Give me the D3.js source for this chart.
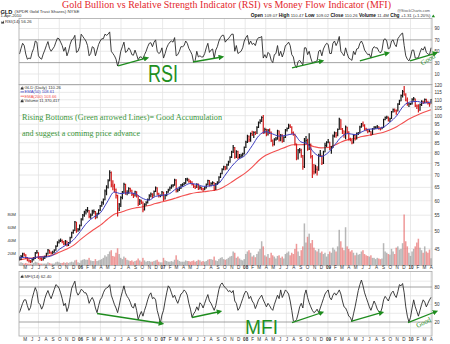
<!DOCTYPE html>
<html>
<head>
<meta charset="utf-8">
<script src="https://cdn.jsdelivr.net/npm/d3@7"></script>
<style>
  body { margin: 0; background: #fff; }
  svg { display: block; }
</style>
</head>
<body>
<svg id="chart" width="450" height="344" font-family="Liberation Sans, Arial, sans-serif"></svg>
<script>
// ---- GLD weekly data, Apr 2005 - Apr 2010 (one entry per Friday from 8 Apr 2005) ----
const firstFriday = new Date(2005, 3, 8);

const closes = [
  42.2,42.9,43.6,43.4, 42.6,42.0,41.8,41.6, 42.1,42.4,43.8,44.0, 42.6,42.4,42.2,42.5,42.9, 43.6,44.6,43.9,43.8, 44.0,44.5,45.6,46.7,47.1, 47.2,47.0,46.3,47.1, 45.9,46.5,48.0,49.5, 50.1,52.8,50.3,50.4,51.6,
  53.7,55.0,56.0,56.6, 56.6,54.6,55.0,56.2, 56.2,54.2,55.4,56.7,58.1, 59.3,60.3,63.6,65.0, 67.6,71.0,66.0,65.5, 64.2,61.9,57.2,58.6,61.2, 63.2,66.2,63.0,63.0, 64.5,63.9,62.3,61.8, 63.3,61.8,58.9,59.9,59.5, 56.8,58.7,59.3,60.4, 61.9,62.4,61.7,63.4, 64.8,62.6,61.8,61.9,63.2,
  60.6,61.9,63.2,64.0, 64.8,65.6,65.8,67.9, 63.8,64.0,64.7,65.9,66.1, 66.6,68.3,68.3,67.4, 67.1,66.2,65.4,65.0, 66.2,64.6,64.9,64.4,64.3, 64.8,66.1,67.7,65.8, 66.5,66.9,64.3,66.3,67.0, 69.1,70.6,72.4,73.5, 72.7,74.4,75.7,77.9, 80.4,82.6,78.0,80.6,77.9, 78.2,78.6,79.5,82.6,
  85.3,88.4,86.5,89.8, 89.3,90.4,89.9,93.2,96.0, 96.8,98.9,90.6,92.0, 89.4,91.6,90.5,86.1, 84.1,86.8,86.9,91.3,86.4, 88.9,85.7,87.8,91.7, 92.5,94.0,93.4,90.3, 89.4,84.4,77.6,81.3,81.3, 78.7,73.6,85.9,86.1, 81.8,84.0,78.2,71.4,71.3, 72.5,72.2,78.9,79.4, 75.2,80.4,83.6,85.2,
  85.4,82.2,82.2,88.5,90.1, 88.8,92.0,97.9,92.3, 91.3,89.6,93.4,90.5, 87.0,86.5,84.9,88.8, 86.9,89.9,90.0,93.4,95.1, 94.4,92.4,91.9,91.0, 91.0,89.2,92.4,93.4,93.4, 93.5,92.7,92.3,93.0, 97.7,98.9,99.1,97.4, 98.1,102.3,103.7,103.0,102.9, 107.2,109.2,112.8,115.5, 113.2,109.8,107.2,107.3,
  107.3,110.3,110.6,106.1,105.96, 103.3,106.9,109.0,108.35, 110.2,108.5,107.6,107.2, 110.26
];

const highs = [
  42.9,43.3,43.9,43.9, 43.5,42.8,42.2,42.0, 42.4,42.7,44.1,44.6, 44.0,42.9,42.7,42.8,43.1, 43.9,44.9,44.7,44.2, 44.4,44.8,45.9,47.0,47.5, 47.8,47.5,47.1,47.4, 47.2,46.8,48.3,49.8, 50.5,53.1,52.9,50.9,52.0,
  54.0,55.4,56.5,57.1, 57.8,56.7,55.6,56.8, 56.9,56.4,55.8,57.0,58.5, 59.8,60.8,64.2,65.8, 68.2,72.0,71.5,67.8, 66.4,64.6,62.2,59.2,61.6, 63.6,66.8,66.4,63.9, 65.0,64.9,64.1,62.7, 63.7,63.5,62.0,60.6,60.3, 59.7,59.1,59.8,60.8, 62.4,63.0,62.7,63.8, 65.3,65.0,62.9,62.3,63.6,
  63.3,62.3,63.6,64.5, 65.3,66.1,66.3,68.5, 68.2,64.6,65.3,66.3,66.6, 67.1,68.8,68.9,68.5, 67.8,67.4,66.4,65.8, 66.6,66.5,65.5,65.2,64.8, 65.2,66.5,68.0,67.9, 67.0,67.4,67.0,66.7,67.4, 69.5,71.0,72.9,74.0, 73.9,74.9,76.3,78.4, 81.0,83.8,82.9,81.2,81.0, 79.4,79.6,80.0,83.1,
  86.0,89.1,88.7,90.4, 91.4,91.0,91.0,93.8,96.5, 97.9,99.7,100.4,93.0, 92.4,92.3,92.6,90.9, 86.6,87.3,88.0,91.9,91.5, 89.6,89.4,88.4,92.3, 93.2,95.3,95.0,93.8, 90.9,89.7,84.6,81.9,82.4, 82.0,79.0,87.5,88.5, 87.0,90.0,84.6,78.9,74.8, 74.5,73.8,79.6,81.4, 79.0,81.0,85.0,85.8,
  86.9,85.5,83.3,89.3,90.9, 90.6,92.6,98.8,97.8, 92.9,91.5,94.3,93.6, 91.0,87.6,86.8,89.4, 89.1,90.4,90.6,94.1,95.7, 96.6,94.9,93.0,92.5, 92.1,91.1,92.9,93.9,93.9, 94.6,93.9,93.2,93.6, 98.2,99.5,99.9,99.5, 98.7,102.8,104.4,104.4,103.7, 107.8,110.1,113.6,116.6, 119.5,114.4,111.6,107.9,
  107.9,111.0,111.9,110.8,107.0, 107.1,107.5,109.7,109.4, 110.8,110.7,109.3,108.2, 110.47
];

const lows = [
  41.9,42.0,42.7,43.0, 42.3,41.7,41.4,41.3, 41.4,41.9,42.3,43.6, 42.3,41.9,41.8,41.9,42.3, 42.7,43.4,43.6,43.4, 43.5,43.9,44.4,45.5,46.4, 46.8,46.5,45.9,46.0, 45.6,45.7,46.4,47.9, 49.2,50.0,49.5,49.8,50.2,
  51.5,53.3,54.5,55.2, 55.9,54.0,53.8,54.8, 55.5,53.7,54.0,55.2,56.4, 57.9,58.6,60.2,62.0, 64.6,67.4,65.0,63.9, 63.0,60.8,54.6,56.4,57.8, 60.5,62.8,62.2,62.0, 62.6,63.2,61.7,61.0, 61.5,61.2,58.1,58.5,58.8, 56.0,56.6,58.2,59.0, 60.2,61.3,61.0,61.5, 63.2,62.0,61.2,61.3,61.6,
  59.9,60.4,61.6,62.9, 63.7,64.5,65.0,65.6, 63.0,63.1,63.6,64.4,65.2, 65.8,66.3,67.4,66.8, 66.4,65.7,64.8,64.4, 64.8,64.0,64.2,63.9,63.3, 63.9,64.6,65.8,65.3, 65.4,66.0,63.6,64.0,65.9, 66.7,68.8,70.3,72.0, 72.0,72.4,74.0,75.4, 77.5,79.9,77.2,77.5,77.0, 77.3,77.6,78.1,79.2,
  82.4,84.9,85.3,85.5, 88.5,87.4,89.0,89.6,92.8, 95.2,96.3,89.6,89.8, 88.3,88.7,89.6,85.4, 83.1,83.6,86.0,86.5,85.6, 85.8,85.0,85.3,87.4, 90.9,92.3,92.8,89.5, 88.6,83.6,76.5,76.9,79.8, 77.7,72.3,73.0,84.6, 81.0,81.3,77.3,68.8,70.2, 70.6,69.8,71.8,78.0, 74.3,74.8,80.3,82.9,
  84.7,81.3,79.5,82.4,87.7, 87.6,88.3,91.9,91.7, 89.5,87.6,86.8,89.9, 86.2,85.8,84.2,84.6, 86.1,86.6,89.0,89.8,93.0, 93.6,91.8,91.1,90.0, 90.5,88.6,89.2,92.0,92.5, 92.7,91.9,91.5,92.1, 92.9,97.3,98.0,96.6, 96.3,98.0,101.9,102.0,100.6, 102.5,106.6,109.0,111.5, 112.8,109.0,106.1,105.3,
  106.6,107.0,109.4,105.4,104.0, 101.9,103.0,106.0,107.2, 107.9,107.9,107.0,105.5, 107.4
];

// peak daily volume of each week, millions of shares
const volumes = [
  3,5,4,3, 4,3,3,3, 3,4,6,5, 4,3,3,3,3, 3,5,4,3, 3,3,5,6,5, 4,4,5,4, 5,4,5,6, 5,8,9,5,4,
  8,9,10,9, 9,12,8,7, 7,10,7,8,9, 10,12,16,14, 18,22,24,15, 14,20,27,18,12, 10,14,12,9, 8,7,8,6, 7,8,11,8,6, 12,8,6,7, 7,6,6,7, 8,9,6,5,5,
  12,8,7,6, 6,7,6,9, 16,9,7,6,6, 6,8,7,7, 6,7,8,6, 7,9,8,6,7, 6,7,9,10, 10,9,14,8,7, 10,12,13,10, 9,10,12,14, 15,22,20,12,14, 11,9,8,10,
  18,22,24,20, 14,16,13,18,22, 26,38,30,16, 14,18,12,20, 16,14,11,15,16, 12,14,11,18, 20,22,16,20, 18,26,34,22,15, 24,30,66,36, 45,50,35,40,28, 24,22,26,20, 22,18,20,14,
  18,22,20,28,25, 22,30,56,38, 28,24,60,30, 26,22,24,20, 16,20,17,18,22, 24,18,16,15, 14,16,12,12,10, 12,11,10,11, 35,22,20,18, 17,26,22,18,28, 30,25,26,35, 80,38,30,20,
  15,22,26,30,36, 42,28,24,20, 30,22,20,25, 11.37
];

const rsi14 = [
  45,55,64,60, 45,36,38,37, 48,55,68,66, 42,38,36,45,52, 60,67,55,50, 54,58,66,73,72, 66,60,50,57, 42,50,62,70, 72,78,48,50,58,
  80,76,72,68, 60,42,46,58, 56,42,52,62,68, 72,72,80,78, 80,84,50,46, 42,36,24,34,50, 58,66,48,50, 56,52,44,43, 52,44,35,40,40, 36,44,50,58, 64,65,58,66, 70,50,46,48,56,
  38,46,56,62, 66,68,66,74, 42,44,50,58,58, 60,68,64,55, 50,44,31,34, 50,40,42,40,40, 46,56,64,48, 52,54,38,52,58, 68,74,78,78, 66,70,72,76, 80,80,50,60,46, 48,50,56,68,
  74,78,62,68, 62,64,60,70,74, 74,76,38,44, 38,48,45,34, 30,44,46,60,42, 50,40,48,60, 62,66,60,44, 40,26,21,32,34, 30,26,56,56, 44,50,38,30,31, 32,33,50,52, 42,54,60,64,
  62,46,46,64,68, 60,66,76,50, 46,42,56,46, 38,36,34,50, 44,54,55,64,68, 62,52,48,44, 45,38,54,58,56, 56,50,47,52, 70,72,68,54, 56,68,70,62,58, 72,76,80,82, 60,42,36,33,
  40,52,52,38,38, 39,48,55,52, 58,48,45,44, 56.26
];

const mfi14 = [
  36,44,52,58, 58,48,40,45, 60,70,79,72, 53,50,42,48,60, 68,74,66,60, 68,76,84,82,78, 70,60,48,52, 38,46,62,78, 84,90,72,66,70,
  76,74,70,70, 64,52,58,62, 56,44,36,48,58, 62,70,76,78, 80,84,66,58, 50,44,36,48,62, 72,82,70,64, 60,54,46,44, 52,40,24,32,38, 30,40,48,58, 66,70,60,62, 58,40,30,18,32,
  40,56,70,82, 78,70,62,66, 58,52,60,68,70, 75,72,66,52, 42,28,34,38, 46,40,53,50,44, 52,60,67,56, 52,46,40,48,62, 76,84,87,82, 79,76,72,74, 70,74,56,52,40, 44,52,60,68,
  73,70,60,64, 56,52,43,50,58, 62,66,58,52, 46,52,48,43, 40,50,58,66,60, 75,62,68,75, 72,68,56,40, 22,21,24,34,46, 52,44,66,75, 62,53,46,40,36, 38,42,36,44, 52,60,68,72,
  75,62,58,66,70, 66,70,75,68, 56,46,44,38, 30,28,21,34, 46,60,74,84,92, 82,70,62,54, 46,40,48,56,50, 42,38,36,44, 58,64,60,56, 64,70,73,66,62, 72,84,82,86, 70,46,30,20,
  28,44,58,46,38, 30,40,50,58, 54,46,52,58, 62.4
];

// moving averages sampled at 8 Apr 2005 and then on the first of each month (May 2005 - Apr 2010)
const ema50 = [
  42.6, 42.7,42.4,42.8,42.8,43.2,44.8,46.0,47.3,
  49.8,52.6,54.3,55.8,59.5,63.2,62.6,62.9,62.6,61.0,60.2,61.6,
  62.0,62.6,64.4,65.3,66.5,66.2,65.4,65.6,66.2,69.5,73.6,76.8,
  78.8,83.5,88.6,90.8,89.6,88.4,88.9,89.6,85.6,84.4,80.0,78.2,
  80.0,84.0,88.0,89.8,89.2,90.8,92.2,92.4,93.2,96.0,100.0,106.0,
  108.6,108.9,107.8,108.61
];
const ema200 = [
  42.0, 42.3,42.5,42.8,43.0,43.3,44.0,44.8,45.8,
  47.4,49.0,50.4,51.8,53.6,55.3,56.0,56.8,57.4,57.8,58.3,59.0,
  59.6,60.3,61.0,61.8,62.5,63.0,63.3,63.7,64.1,65.3,67.0,68.9,
  70.8,73.4,76.4,78.8,80.3,81.6,82.9,84.0,84.0,84.1,83.0,82.4,
  82.6,83.8,85.4,86.6,87.3,88.2,88.9,89.6,90.4,91.8,93.6,96.0,
  98.4,100.4,102.0,103.66
];

const priceTicks = [45,50,55,60,65,70,75,80,85,90,95,100,105,110,115,120];
const volumeTicks = [20,40,60,80];
const rsiTicks = [10,30,50,70,90];
const mfiTicks = [20,50,80];
const monthLetters = ["J","F","M","A","M","J","J","A","S","O","N","D"];

// hand-drawn "rising bottom" arrows: [start date, start value, end date, end value]
const rsiArrows = [
  ["2006-06-18",24.1,"2006-10-24",38.2],
  ["2007-05-15",31.1,"2007-09-20",39.9],
  ["2008-07-26",20.6,"2008-12-06",32.9],
  ["2009-05-22",32.9,"2009-09-23",46.9],
  ["2009-12-30",32.9,"2010-04-24",46.9]
];
const mfiArrows = [
  ["2006-03-17",34.6,"2006-12-29",17.4],
  ["2007-05-11",27.7,"2007-09-12",38.0],
  ["2008-07-26",19.1,"2008-12-06",36.3],
  ["2009-04-13",20.9,"2009-08-28",36.3],
  ["2009-12-21",19.1,"2010-04-24",38.0]
];

// ---- layout ----
const svg = d3.select("#chart");
const SANS = "Liberation Sans, Arial, sans-serif";
const SERIF = "Liberation Serif, Times New Roman, serif";
const X0 = 19, X1 = 432;
const rsiP = {top: 18.5, bottom: 84.5};
const priceP = {top: 84.5, bottom: 265.5};
const mfiP = {top: 271.5, bottom: 336};

const parse = d3.timeParse("%Y-%m-%d");
const x = d3.scaleTime().domain([new Date(2005,3,6), new Date(2010,3,6)]).range([X0, X1]);
const weekDates = closes.map((_, i) => d3.timeDay.offset(firstFriday, 7 * i));
const emaDates = [new Date(2005,3,8)].concat(d3.timeMonth.range(new Date(2005,4,1), new Date(2010,3,2)));

const yR = d3.scaleLinear().domain([10,90]).range([74,28.5]);
const yM = d3.scaleLinear().domain([20,80]).range([322,287]);
const yP = d3.scaleLog().domain([60,120]).range([200.7,85.3]);
const yV = d3.scaleLinear().domain([0,80]).range([265.5,214.5]);

const monthStarts = d3.timeMonth.range(new Date(2005,4,1), new Date(2010,3,2));
const quarterStarts = monthStarts.filter(d => d.getMonth() % 3 === 0);

const defs = svg.append("defs");
[["clipR", rsiP], ["clipP", priceP], ["clipM", mfiP]].forEach(([id, p]) => {
  defs.append("clipPath").attr("id", id).append("rect")
    .attr("x", X0).attr("y", p.top).attr("width", X1 - X0).attr("height", p.bottom - p.top);
});
defs.append("marker").attr("id", "arrowHead").attr("viewBox", "0 0 10 10")
  .attr("refX", 6).attr("refY", 5).attr("markerWidth", 4.2).attr("markerHeight", 4.2)
  .attr("orient", "auto").append("path").attr("d", "M0,0L10,5L0,10z").attr("fill", "#1e8c1e");

const GRID = "#e3e3e3", BORDER = "#a8a8a8", DARKLINE = "#8c8c8c";

function panelFrame(p) {
  const g = svg.append("g");
  g.selectAll("line.vg").data(quarterStarts).join("line")
    .attr("x1", d => x(d)).attr("x2", d => x(d)).attr("y1", p.top).attr("y2", p.bottom)
    .attr("stroke", GRID).attr("stroke-width", 0.8);
  return g;
}
function panelBorder(p) {
  svg.append("rect").attr("x", X0).attr("y", p.top).attr("width", X1 - X0).attr("height", p.bottom - p.top)
    .attr("fill", "none").attr("stroke", BORDER).attr("stroke-width", 0.8);
}
function styleTicks(g, size) {
  g.select(".domain").remove();
  g.selectAll("text").attr("font-size", size).attr("fill", "#333").attr("font-family", SANS);
}

// ---- RSI panel ----
const gR = panelFrame(rsiP);
gR.selectAll("line.hg").data(rsiTicks).join("line")
  .attr("x1", X0).attr("x2", X1).attr("y1", d => yR(d)).attr("y2", d => yR(d))
  .attr("stroke", d => (d === 30 || d === 70) ? DARKLINE : GRID).attr("stroke-width", 0.8);
svg.append("path").datum(rsi14).attr("clip-path", "url(#clipR)")
  .attr("d", d3.line().x((d, i) => x(weekDates[i])).y(d => yR(d)))
  .attr("fill", "none").attr("stroke", "#2a2a2a").attr("stroke-width", 0.9);
panelBorder(rsiP);
svg.append("g").attr("transform", `translate(${X1 + 1},0)`)
  .call(d3.axisRight(yR).tickValues(rsiTicks).tickSize(0).tickPadding(1.5))
  .call(g => styleTicks(g, 4.6));

// ---- price panel ----
const gP = panelFrame(priceP);
gP.selectAll("line.hg").data(priceTicks).join("line")
  .attr("x1", X0).attr("x2", X1).attr("y1", d => yP(d)).attr("y2", d => yP(d))
  .attr("stroke", GRID).attr("stroke-width", 0.8);

// volume bars
const gVol = svg.append("g").attr("clip-path", "url(#clipP)");
const wBar = (x(weekDates[1]) - x(weekDates[0]));
gVol.selectAll("rect").data(volumes).join("rect")
  .attr("x", (d, i) => x(weekDates[i]) - wBar / 2)
  .attr("width", wBar * 0.95)
  .attr("y", d => yV(d)).attr("height", d => yV(0) - yV(d))
  .attr("fill", (d, i) => (i > 0 && closes[i] < closes[i - 1]) ? "#e35b5b" : "#8a8a8a")
  .attr("opacity", 0.62);

// moving averages
const emaLine = d3.line().x((d, i) => x(emaDates[i])).y(d => yP(d)).curve(d3.curveMonotoneX);
svg.append("path").datum(ema200).attr("clip-path", "url(#clipP)").attr("d", emaLine)
  .attr("fill", "none").attr("stroke", "#f25050").attr("stroke-width", 1.1);

// price bars (weekly high-low range, close tick)
const gBars = svg.append("g").attr("clip-path", "url(#clipP)");
const barColor = (i) => (i > 0 && closes[i] < closes[i - 1]) ? "#d41c1c" : "#141414";
gBars.selectAll("line.hl").data(closes).join("line")
  .attr("x1", (d, i) => x(weekDates[i])).attr("x2", (d, i) => x(weekDates[i]))
  .attr("y1", (d, i) => yP(highs[i])).attr("y2", (d, i) => yP(lows[i]))
  .attr("stroke", (d, i) => barColor(i)).attr("stroke-width", 1.2);
gBars.selectAll("line.cl").data(closes).join("line")
  .attr("x1", (d, i) => x(weekDates[i])).attr("x2", (d, i) => x(weekDates[i]) + 1.1)
  .attr("y1", d => yP(d)).attr("y2", d => yP(d))
  .attr("stroke", (d, i) => barColor(i)).attr("stroke-width", 0.8);

svg.append("path").datum(ema50).attr("clip-path", "url(#clipP)").attr("d", emaLine)
  .attr("fill", "none").attr("stroke", "#3c3cbf").attr("stroke-width", 1.0);
panelBorder(priceP);

svg.append("g").attr("transform", `translate(${X1 + 1},0)`)
  .call(d3.axisRight(yP).tickValues(priceTicks).tickFormat(d3.format("d")).tickSize(0).tickPadding(1.5))
  .call(g => styleTicks(g, 4.6));
svg.append("g").attr("transform", `translate(${X0 - 1},0)`)
  .call(d3.axisLeft(yV).tickValues(volumeTicks).tickFormat(d => d + "M").tickSize(0).tickPadding(2))
  .call(g => styleTicks(g, 4.4));

// month labels
function monthAxis(yPos) {
  svg.append("g").attr("transform", `translate(0,${yPos})`)
    .call(d3.axisBottom(x).tickValues(monthStarts).tickSize(0).tickPadding(0)
      .tickFormat(d => d.getMonth() === 0 ? d3.timeFormat("%y")(d) : monthLetters[d.getMonth()]))
    .call(g => styleTicks(g, 4.6))
    .call(g => g.selectAll("text").attr("font-weight", d => d.getMonth() === 0 ? "bold" : "normal"));
}
monthAxis(266);
monthAxis(338);

// ---- MFI panel ----
const gM = panelFrame(mfiP);
gM.selectAll("line.hg").data([10, 35, 50, 65, 90]).join("line")
  .attr("x1", X0).attr("x2", X1).attr("y1", d => yM(d)).attr("y2", d => yM(d))
  .attr("stroke", GRID).attr("stroke-width", 0.8);
gM.selectAll("line.hd").data([20, 80]).join("line")
  .attr("x1", X0).attr("x2", X1).attr("y1", d => yM(d)).attr("y2", d => yM(d))
  .attr("stroke", DARKLINE).attr("stroke-width", 0.8);
svg.append("path").datum(mfi14).attr("clip-path", "url(#clipM)")
  .attr("d", d3.line().x((d, i) => x(weekDates[i])).y(d => yM(d)))
  .attr("fill", "none").attr("stroke", "#2a2a2a").attr("stroke-width", 0.9);
panelBorder(mfiP);
svg.append("g").attr("transform", `translate(${X1 + 1},0)`)
  .call(d3.axisRight(yM).tickValues(mfiTicks).tickSize(0).tickPadding(1.5))
  .call(g => styleTicks(g, 4.6));

// ---- annotations: arrows ----
function drawArrows(list, yScale) {
  svg.append("g").selectAll("line").data(list).join("line")
    .attr("x1", d => x(parse(d[0]))).attr("y1", d => yScale(d[1]))
    .attr("x2", d => x(parse(d[2]))).attr("y2", d => yScale(d[3]))
    .attr("stroke", "#1e8c1e").attr("stroke-width", 1.3)
    .attr("marker-end", "url(#arrowHead)");
}
drawArrows(rsiArrows, yR);
drawArrows(mfiArrows, yM);

// ---- text ----
svg.append("text").attr("x", 62).attr("y", 8.4).attr("textLength", 329).attr("lengthAdjust", "spacingAndGlyphs")
  .attr("font-family", SERIF).attr("font-size", 10.2).attr("fill", "#e3262b")
  .text("Gold Bullion vs Relative Strength Indicator (RSI) vs Money Flow Indicator (MFI)");

svg.append("text").attr("x", 0.5).attr("y", 13.6).attr("font-size", 5.6).attr("font-weight", "bold").attr("fill", "#111").text("GLD");
svg.append("text").attr("x", 14.5).attr("y", 13.4).attr("font-size", 4.4).attr("fill", "#333").text("(SPDR Gold Trust Shares) NYSE");
svg.append("text").attr("x", 0.5).attr("y", 17.4).attr("font-size", 4.2).attr("fill", "#333").text("1-Apr-2010");
svg.append("text").attr("x", 430).attr("y", 12.3).attr("text-anchor", "end").attr("font-size", 3.8).attr("fill", "#555").text("@StockCharts.com");

const quote = svg.append("text").attr("x", 430.5).attr("y", 17.4).attr("text-anchor", "end").attr("font-size", 4.3).attr("fill", "#333");
[["Open", "109.07"], ["High", "110.47"], ["Low", "109.02"], ["Close", "110.26"], ["Volume", "11.4M"], ["Chg", "+1.31 (+1.20%)"]]
  .forEach(([k, v], i) => {
    quote.append("tspan").attr("font-weight", "bold").attr("font-size", 4.8).attr("fill", "#111").text((i ? "  " : "") + k + " ");
    quote.append("tspan").text(v);
  });
svg.append("path").attr("d", "M431.6,17.2 L435,17.2 L433.3,14.4 Z").attr("fill", "#1e8c1e");

// legends
function miniIcon(xp, yp) {
  svg.append("path").attr("d", `M${xp},${yp} l0.8,-2.6 l0.8,1.4 l0.8,-2.2 l0.8,3.4 z`).attr("fill", "#333");
}
miniIcon(1, 23.6);
svg.append("text").attr("x", 5).attr("y", 23.4).attr("font-size", 4.3).attr("fill", "#333").text("RSI(14) 56.26");

miniIcon(20.5, 89.4);
svg.append("text").attr("x", 24.5).attr("y", 89.2).attr("font-size", 4.3).attr("fill", "#333").text("GLD (Daily) 110.26");
svg.append("line").attr("x1", 20.5).attr("x2", 24).attr("y1", 91.9).attr("y2", 91.9).attr("stroke", "#3c3cbf").attr("stroke-width", 0.8);
svg.append("text").attr("x", 24.5).attr("y", 93.4).attr("font-size", 4.1).attr("fill", "#3c3cbf").text("EMA(50) 108.61");
svg.append("line").attr("x1", 20.5).attr("x2", 24).attr("y1", 96.2).attr("y2", 96.2).attr("stroke", "#f25050").attr("stroke-width", 0.8);
svg.append("text").attr("x", 24.5).attr("y", 97.7).attr("font-size", 4.1).attr("fill", "#f25050").text("EMA(200) 103.66");
miniIcon(20.5, 102.2);
svg.append("text").attr("x", 24.5).attr("y", 102).attr("font-size", 4.1).attr("fill", "#333").text("Volume 11,370,417");

miniIcon(20.5, 277.8);
svg.append("text").attr("x", 24.5).attr("y", 277.6).attr("font-size", 4.3).attr("fill", "#333").text("MFI(14) 62.40");

// green commentary
svg.append("text").attr("x", 22).attr("y", 120.2).attr("textLength", 200).attr("lengthAdjust", "spacingAndGlyphs")
  .attr("font-family", SERIF).attr("font-size", 7.6).attr("fill", "#3a963a")
  .text("Rising Bottoms (Green arrowed Lines)= Good Accumulation");
svg.append("text").attr("x", 22).attr("y", 136.2).attr("textLength", 118).attr("lengthAdjust", "spacingAndGlyphs")
  .attr("font-family", SERIF).attr("font-size", 7.6).attr("fill", "#3a963a")
  .text("and suggest a comimg price advance");

svg.append("text").attr("x", 148).attr("y", 81.8).attr("textLength", 30).attr("lengthAdjust", "spacingAndGlyphs")
  .attr("font-family", SANS).attr("font-size", 23).attr("fill", "#1f8f1f").text("RSI");
svg.append("text").attr("x", 245).attr("y", 334.4).attr("textLength", 33).attr("lengthAdjust", "spacingAndGlyphs")
  .attr("font-family", SANS).attr("font-size", 20.5).attr("fill", "#1f8f1f").text("MFI");

svg.append("text").attr("transform", "translate(429,61.5) rotate(-30)").attr("text-anchor", "middle")
  .attr("font-family", SERIF).attr("font-size", 7).attr("fill", "#1f8f1f").text("Good");
svg.append("text").attr("transform", "translate(424.5,324.5) rotate(-26)").attr("text-anchor", "middle")
  .attr("font-family", SERIF).attr("font-size", 7).attr("fill", "#1f8f1f").text("Good");
</script>
</body>
</html>
